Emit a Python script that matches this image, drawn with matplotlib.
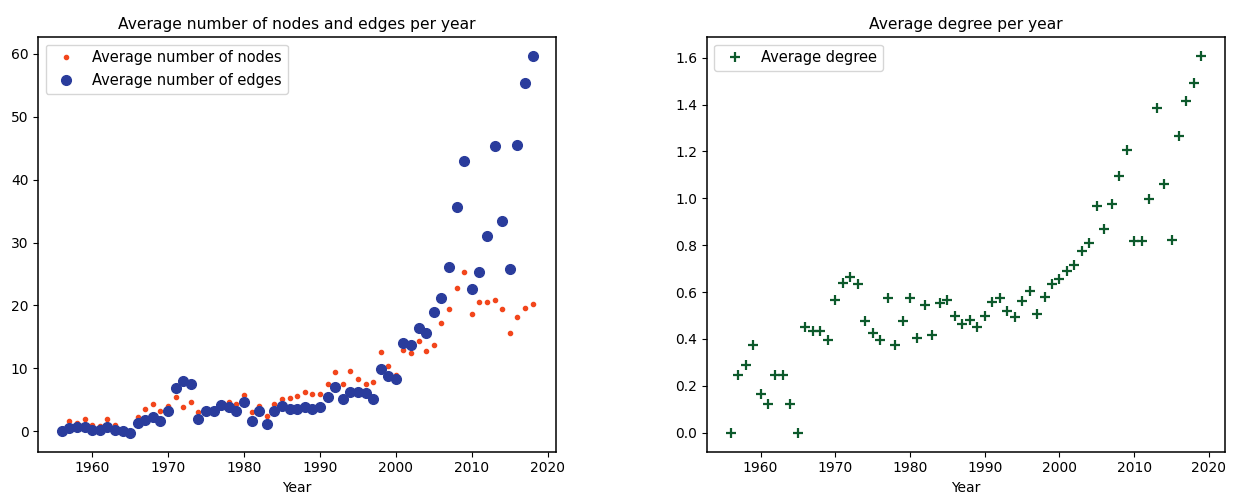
import matplotlib
matplotlib.use('Agg')
import matplotlib.pyplot as plt

#Dados:
years_ne = list(range(1956, 2019))
nodes = [0.2, 1.6, 1.4, 2.0, 1.0, 0.8, 2.0, 1.1, 0.3, 0.0,
         2.3, 3.5, 4.3, 3.2, 4.1, 5.5, 3.9, 4.6, 3.1, 3.4,
         3.4, 4.3, 4.6, 4.4, 5.8, 3.1, 4.0, 2.4, 4.4, 5.1,
         5.3, 5.7, 6.3, 6.0, 6.0, 7.6, 9.4, 7.6, 9.6, 8.4,
         7.6, 7.9, 12.6, 10.4, 8.9, 13.0, 12.4, 14.3, 12.7, 13.8,
         17.2, 19.4, 22.8, 25.3, 18.6, 20.5, 20.5, 20.9, 19.5, 15.7,
         18.1, 19.6, 20.2]
edges = [0.0, 0.5, 0.7, 0.7, 0.3, 0.3, 0.7, 0.3, 0.1, -0.2,
         1.4, 1.8, 2.3, 1.6, 3.3, 6.9, 8.0, 7.5, 2.0, 3.2,
         3.3, 4.2, 3.9, 3.3, 4.6, 1.6, 3.3, 1.2, 3.3, 4.1,
         3.5, 3.5, 3.9, 3.5, 3.9, 5.5, 7.0, 5.1, 6.2, 6.2,
         6.1, 5.2, 9.9, 8.8, 8.3, 14.1, 13.8, 16.5, 15.7, 18.9,
         21.2, 26.1, 35.6, 43.0, 22.6, 25.3, 31.0, 45.3, 33.4, 25.8,
         45.5, 55.3, 59.6]

years_deg = list(range(1956, 2020))
degree = [0.0, 0.248, 0.29, 0.376, 0.165, 0.122, 0.248, 0.248, 0.122, 0.0,
          0.451, 0.434, 0.434, 0.397, 0.568, 0.64, 0.664, 0.633, 0.475, 0.426,
          0.397, 0.576, 0.373, 0.475, 0.576, 0.406, 0.543, 0.416, 0.555, 0.568,
          0.497, 0.462, 0.48, 0.45, 0.497, 0.557, 0.575, 0.519, 0.492, 0.562,
          0.603, 0.508, 0.579, 0.636, 0.657, 0.689, 0.714, 0.774, 0.81, 0.969,
          0.87, 0.976, 1.097, 1.206, 0.817, 0.82, 0.997, 1.387, 1.061, 0.823,
          1.267, 1.416, 1.494, 1.607]

#Plotagem:
plt.rcParams['axes.linewidth'] = 1.1
fig = plt.figure(figsize=(12.33, 4.97), dpi=100)
plt.subplots_adjust(left=0.031, right=0.9935, bottom=0.0915, top=0.925, wspace=0.2915)

ax1 = plt.subplot(1, 2, 1)
plt.plot(years_ne, nodes, '.', color='#f2461c', label='Average number of nodes')
plt.plot(years_ne, edges, 'o', color='#2a3c9c', markersize=7, label='Average number of edges')
plt.title('Average number of nodes and edges per year', fontsize=11.2)
plt.xlabel('Year', fontsize=10)
plt.legend(loc='upper left', fontsize=10.5)

ax2 = plt.subplot(1, 2, 2)
plt.plot(years_deg, degree, '+', color='#0d5a2c', markersize=7, markeredgewidth=1.6, label='Average degree')
plt.title('Average degree per year', fontsize=11.2)
plt.xlabel('Year', fontsize=10)
plt.legend(loc='upper left', fontsize=10.5)

plt.savefig('out.png', dpi=100)
